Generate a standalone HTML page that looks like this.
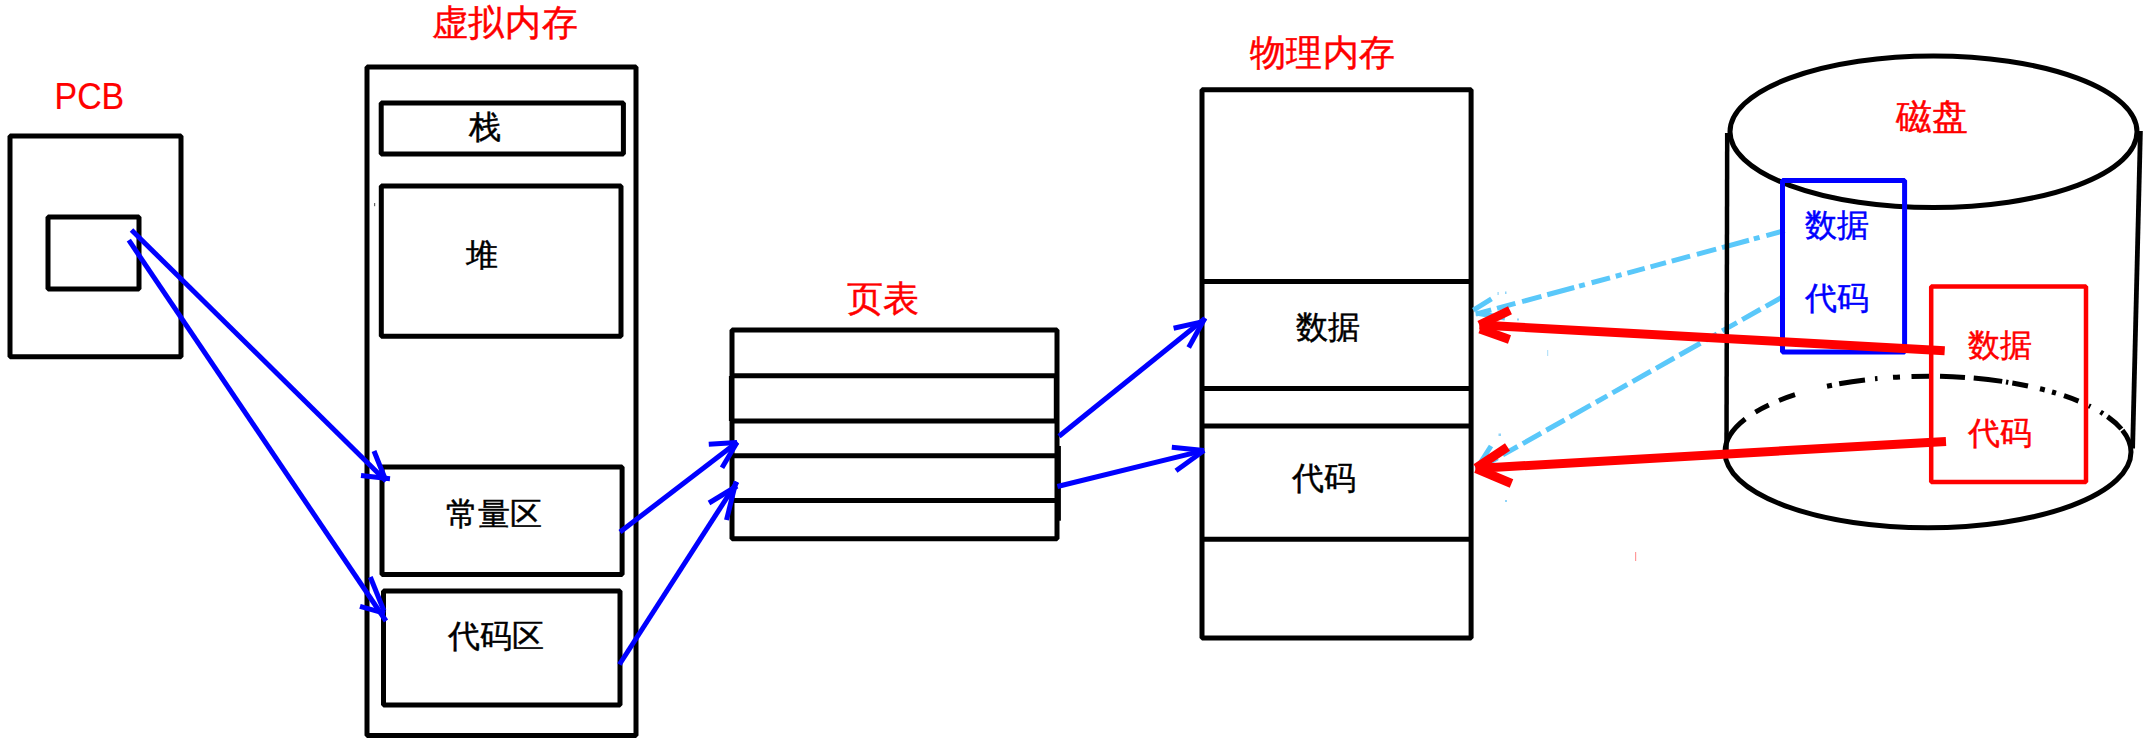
<!DOCTYPE html>
<html><head><meta charset="utf-8"><style>
html,body{margin:0;padding:0;background:#fff;width:2150px;height:747px;overflow:hidden}
svg{display:block;font-family:"Liberation Sans",sans-serif}
</style></head><body>
<svg width="2150" height="747" viewBox="0 0 2150 747">
<rect x="0" y="0" width="2150" height="747" fill="#fff"/>
<!-- black boxes -->
<g fill="none" stroke="#000" stroke-width="5" stroke-linejoin="bevel">
  <rect x="10" y="136" width="171" height="220.7"/>
  <rect x="48" y="217" width="91" height="72"/>
  <rect x="367" y="66.9" width="269" height="668.7"/>
  <rect x="381.2" y="103.1" width="242.2" height="50.9"/>
  <rect x="381.3" y="186.1" width="239.7" height="150.2"/>
  <rect x="382" y="466.9" width="240.1" height="107.6"/>
  <rect x="383.5" y="591" width="236.5" height="114"/>
  <!-- page table -->
  <rect x="732" y="330" width="325" height="208.8"/>
  <line x1="732" y1="375.8" x2="1057" y2="375.8"/>
  <line x1="732" y1="421" x2="1057" y2="421"/>
  <line x1="732" y1="455.8" x2="1057" y2="455.8"/>
  <line x1="732" y1="500.5" x2="1057" y2="500.5"/>
  <line x1="1058.6" y1="446" x2="1058.6" y2="520.7" stroke-width="4.6" stroke-linecap="butt"/>
  <line x1="731.3" y1="376" x2="731.3" y2="421" stroke-width="4.8" stroke-linecap="butt"/>
  <line x1="1054.8" y1="376" x2="1054.8" y2="421" stroke-width="2" stroke-linecap="butt"/>
  <!-- physical memory -->
  <rect x="1202" y="89.7" width="269.1" height="548.2"/>
  <line x1="1202" y1="281.4" x2="1471.1" y2="281.4"/>
  <line x1="1202" y1="388.4" x2="1471.1" y2="388.4"/>
  <line x1="1202" y1="425.9" x2="1471.1" y2="425.9"/>
  <line x1="1202" y1="539.3" x2="1471.1" y2="539.3"/>
</g>
<!-- light blue dash-dot arrows -->
<g fill="none" stroke="#5ac8fa" stroke-width="5" stroke-linecap="butt">
  <line x1="1784.7" y1="230.6" x2="1475" y2="314.3" stroke-dasharray="19 7 6 5 28 6 20 7 19 6 16 6 18 6 6 6"/>
  <line x1="1473.4" y1="310.2" x2="1491.5" y2="298.8"/>
  <line x1="1476" y1="313" x2="1505" y2="318"/>
  <line x1="1784" y1="296" x2="1476" y2="470" stroke-dasharray="21 6 21 6 17 6 13 6 24 6"/>
  <line x1="1477" y1="468" x2="1491" y2="446"/>
</g>
<g fill="none" stroke="#000" stroke-width="5" stroke-linejoin="bevel">
  <!-- disk -->
  <ellipse cx="1933.5" cy="131.7" rx="203.5" ry="75.8"/>
  <line x1="1727.2" y1="133" x2="1726.5" y2="450" stroke-width="4.5" stroke-linecap="butt"/>
  <line x1="2140.4" y1="131" x2="2132.6" y2="448.5" stroke-width="4.8" stroke-linecap="butt"/>
  <path d="M1725 452 A203 75.8 0 0 0 2131 452"/>
  <path d="M1725.0 452.0 A203 75.8 0 0 1 1745.2 419.0 M1755.4 412.1 A203 75.8 0 0 1 1768.8 405.0 M1779.0 400.5 A203 75.8 0 0 1 1795.0 394.7 M1827.0 386.2 A203 75.8 0 0 1 1832.0 385.2 M1839.2 383.8 A203 75.8 0 0 1 1865.0 379.9 M1875.0 378.8 A203 75.8 0 0 1 1877.5 378.6 M1893.0 377.3 A203 75.8 0 0 1 1900.0 376.9 M1911.5 376.5 A203 75.8 0 0 1 1929.0 376.2 M1940.0 376.3 A203 75.8 0 0 1 1965.0 377.5 M1973.7 378.1 A203 75.8 0 0 1 2002.2 381.4 M2006.0 382.0 A203 75.8 0 0 1 2008.3 382.4 M2012.3 383.0 A203 75.8 0 0 1 2028.0 386.0 M2040.0 388.8 A203 75.8 0 0 1 2044.8 390.0 M2052.0 392.0 A203 75.8 0 0 1 2056.0 393.2 M2064.0 395.7 A203 75.8 0 0 1 2078.5 401.1 M2088.7 405.7 A203 75.8 0 0 1 2090.5 406.6 M2100.5 412.0 A203 75.8 0 0 1 2103.0 413.6 M2107.5 416.6 A203 75.8 0 0 1 2121.4 429.0 M2122.4 430.2 A203 75.8 0 0 1 2131.0 452.0" stroke-linecap="butt"/>
</g>

<!-- disk inner boxes -->
<rect x="1782.5" y="180.5" width="122.1" height="171.5" fill="none" stroke="#0000ff" stroke-width="5" stroke-linejoin="bevel"/>
<rect x="1931.2" y="286.5" width="154.8" height="195.5" fill="none" stroke="#ff0000" stroke-width="4.5" stroke-linejoin="bevel"/>



<!-- blue arrows -->
<g fill="none" stroke="#0000ff" stroke-width="5" stroke-linecap="butt">
  <line x1="131.5" y1="230" x2="386" y2="481"/>
  <line x1="374" y1="451" x2="386" y2="481"/>
  <line x1="361" y1="475.5" x2="390" y2="478.7"/>
  <line x1="128.8" y1="240.2" x2="386" y2="621"/>
  <line x1="370.3" y1="577" x2="384" y2="611"/>
  <line x1="360" y1="606.4" x2="385" y2="613.4"/>
  <line x1="620" y1="532" x2="737.5" y2="442"/>
  <line x1="708.8" y1="444.3" x2="737" y2="442.5"/>
  <line x1="722" y1="467.8" x2="737" y2="442.5"/>
  <line x1="619.4" y1="664.5" x2="737" y2="482"/>
  <line x1="709" y1="503" x2="737" y2="486"/>
  <line x1="726.5" y1="520" x2="736" y2="481.7"/>
  <line x1="1059" y1="436.2" x2="1205" y2="318.5"/>
  <line x1="1173.6" y1="328.2" x2="1203" y2="321.6"/>
  <line x1="1188.7" y1="347.5" x2="1205" y2="318"/>
  <line x1="1057.4" y1="486.5" x2="1204.3" y2="450.4"/>
  <line x1="1171.8" y1="447.3" x2="1204" y2="450.4"/>
  <line x1="1176" y1="470.8" x2="1204" y2="450.4"/>
</g>

<!-- red arrows -->
<g fill="none" stroke="#ff0000" stroke-width="9" stroke-linecap="butt">
  <line x1="1944.7" y1="350.7" x2="1479.4" y2="325"/>
  <line x1="1479.4" y1="325" x2="1510" y2="310.2"/>
  <line x1="1480" y1="328.9" x2="1509.5" y2="339.6"/>
  <line x1="1946" y1="441.4" x2="1475.5" y2="468.5"/>
  <line x1="1476" y1="468" x2="1507.5" y2="447"/>
  <line x1="1476" y1="468.5" x2="1511.5" y2="483.5"/>
</g>

<!-- specks -->
<g>
  <rect x="374" y="203" width="1.2" height="3.2" fill="#666"/>
  <rect x="1635" y="552" width="1.2" height="9" fill="#ff9a9a"/>
  <rect x="1547.2" y="350" width="1" height="6" fill="#a8dcf8"/>
  <rect x="1497.5" y="292" width="1.2" height="3" fill="#8fd4f8"/>
  <rect x="1505" y="291.5" width="1.5" height="2.5" fill="#8fd4f8"/>
  <rect x="1517" y="318.5" width="2" height="2" fill="#8fd4f8"/>
  <rect x="1498.5" y="433.5" width="2.5" height="2.5" fill="#8fd4f8"/>
  <rect x="1505" y="500" width="2" height="2" fill="#8fd4f8"/>
</g>
<!-- text -->
<g font-size="32" fill="#000" stroke="#000" stroke-width="0.45">
  <text x="469" y="137.6">栈</text>
  <text x="465.5" y="265.9">堆</text>
  <text x="446" y="524.5">常量区</text>
  <text x="448" y="646.8">代码区</text>
  <text x="1295.7" y="337.7">数据</text>
  <text x="1292.3" y="488.7">代码</text>
</g>
<g font-size="32" fill="#0000ff" stroke="#0000ff" stroke-width="0.45">
  <text x="1804.5" y="236">数据</text>
  <text x="1804.5" y="309">代码</text>
</g>
<g font-size="32" fill="#ff0000" stroke="#ff0000" stroke-width="0.45">
  <text x="1967.5" y="356">数据</text>
  <text x="1967.5" y="444">代码</text>
</g>
<g font-size="36" fill="#ff0000" stroke="#ff0000" stroke-width="0.45" letter-spacing="0.6">
  <text transform="translate(54.6 108.5) scale(0.915 1)" x="0" y="0" font-size="37" stroke-width="0.2" letter-spacing="0">PCB</text>
  <text x="431.5" y="35.2" letter-spacing="0.8">虚拟内存</text>
  <text x="846.5" y="310.7">页表</text>
  <text x="1249.5" y="65.4">物理内存</text>
  <text x="1895.5" y="129">磁盘</text>
</g>
</svg>
</body></html>
